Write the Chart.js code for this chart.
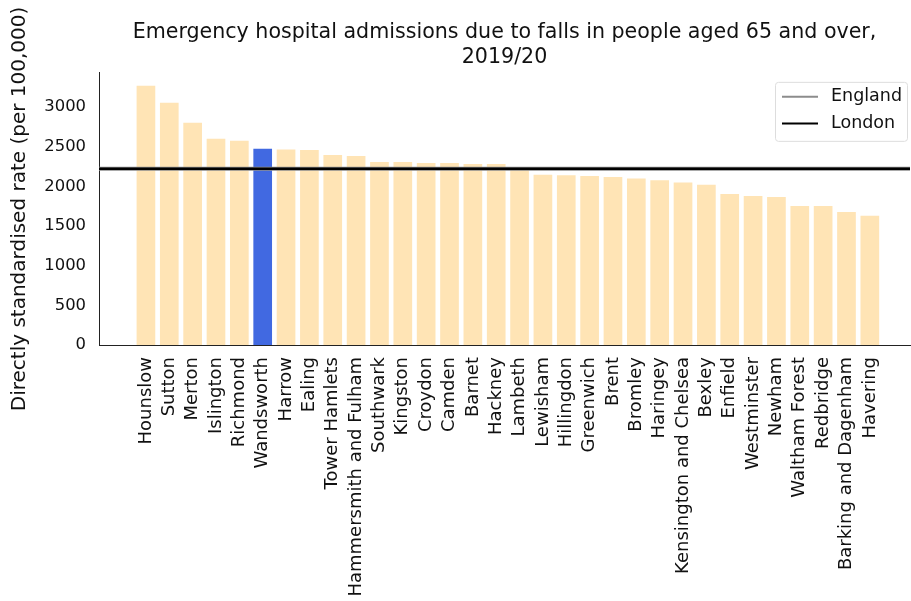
<!DOCTYPE html>
<html>
<head>
<meta charset="utf-8">
<script src="https://cdn.jsdelivr.net/npm/chart.js@4/dist/chart.umd.min.js"></script>
<style>
  body { margin: 0; background: #fff; }
  #wrap { width: 911px; height: 601px; }
</style>
</head>
<body>
<div id="wrap"><canvas id="chart" width="911" height="601"></canvas></div>
<script>
// ---------- data ----------
const boroughs = [
  "Hounslow", "Sutton", "Merton", "Islington", "Richmond", "Wandsworth", "Harrow",
  "Ealing", "Tower Hamlets", "Hammersmith and Fulham", "Southwark", "Kingston",
  "Croydon", "Camden", "Barnet", "Hackney", "Lambeth", "Lewisham", "Hillingdon",
  "Greenwich", "Brent", "Bromley", "Haringey", "Kensington and Chelsea", "Bexley",
  "Enfield", "Westminster", "Newham", "Waltham Forest", "Redbridge",
  "Barking and Dagenham", "Havering",
];
const rates = [
  3266, 3052, 2800, 2598, 2573, 2472, 2465,
  2459, 2396, 2383, 2308, 2305,
  2295, 2295, 2282, 2282, 2215, 2146, 2138,
  2131, 2118, 2097, 2077, 2047, 2021,
  1904, 1879, 1866, 1753, 1753,
  1677, 1630,
];
const englandRate = 2222;
const londonRate = 2220;
const yTicks = [0, 500, 1000, 1500, 2000, 2500, 3000];
const highlight = "Wandsworth";

// ---------- styling ----------
const FONT = "'DejaVu Sans', sans-serif";
const BAR = "#FFE4B5";
const BLUE = "#4169E1";
const X_MIN = -2.01;
const X_MAX = 32.72;

// legend drawn inside the plot, top right, like matplotlib's
const legendBox = {
  id: "legendBox",
  afterDraw(chart) {
    const { ctx, chartArea } = chart;
    const w = 132, h = 59;
    const x = chartArea.right - w - 3, y = chartArea.top + 9;
    ctx.save();
    ctx.fillStyle = "rgba(255,255,255,0.85)";
    ctx.strokeStyle = "#dddddd";
    ctx.lineWidth = 1;
    ctx.beginPath();
    ctx.roundRect(x + 0.5, y + 0.5, w, h, 3);
    ctx.fill();
    ctx.stroke();
    const items = [["England", "#8c8c8c"], ["London", "#000000"]];
    ctx.font = "17.5px " + FONT;
    ctx.textBaseline = "middle";
    items.forEach(([label, color], i) => {
      const ly = y + 15 + i * 26.6;
      ctx.strokeStyle = color;
      ctx.lineWidth = 2;
      ctx.beginPath();
      ctx.moveTo(x + 7, ly);
      ctx.lineTo(x + 43, ly);
      ctx.stroke();
      ctx.fillStyle = "#111";
      ctx.fillText(label, x + 56, ly);
    });
    ctx.restore();
  },
};

new Chart(document.getElementById("chart"), {
  type: "bar",
  data: {
    datasets: [
      {
        type: "line",
        label: "England",
        data: [{ x: X_MIN, y: englandRate }, { x: X_MAX, y: englandRate }],
        borderColor: "#8c8c8c",
        borderWidth: 4,
        pointRadius: 0,
        order: 1,
      },
      {
        type: "line",
        label: "London",
        data: [{ x: X_MIN, y: londonRate }, { x: X_MAX, y: londonRate }],
        borderColor: "#000000",
        borderWidth: 2.5,
        pointRadius: 0,
        order: 0,
      },
      {
        type: "bar",
        label: "Rate",
        data: rates.map((v, i) => ({ x: i, y: v })),
        backgroundColor: boroughs.map((b) => (b === highlight ? BLUE : BAR)),
        barPercentage: 0.8,
        categoryPercentage: 1,
        order: 2,
      },
    ],
  },
  options: {
    responsive: false,
    devicePixelRatio: 1,
    animation: false,
    layout: { padding: { left: 0, right: 1, top: 0, bottom: 0 } },
    plugins: {
      legend: { display: false },
      tooltip: { enabled: false },
      title: {
        display: true,
        fullSize: false,
        text: ["Emergency hospital admissions due to falls in people aged 65 and over,", "2019/20"],
        color: "#111",
        font: { family: FONT, size: 20.6, weight: "normal", lineHeight: 1.21 },
        padding: { top: 20.5, bottom: 2.5 },
      },
    },
    scales: {
      x: {
        type: "linear",
        min: X_MIN,
        max: X_MAX,
        offset: false,
        grid: { display: false, drawTicks: false },
        border: { color: "#222", width: 1 },
        afterBuildTicks: (s) => { s.ticks = boroughs.map((_, i) => ({ value: i })); },
        afterFit: (s) => { s.height = 256; },
        ticks: {
          autoSkip: false,
          minRotation: 90,
          maxRotation: 90,
          padding: 12,
          color: "#111",
          font: { family: FONT, size: 18 },
          callback: (v) => boroughs[v] ?? "",
        },
      },
      y: {
        min: 0,
        max: 3430,
        grid: { display: false, drawTicks: false },
        border: { color: "#222", width: 1 },
        afterBuildTicks: (s) => { s.ticks = yTicks.map((v) => ({ value: v })); },
        afterFit: (s) => { s.width = 99; },
        ticks: {
          padding: 13,
          color: "#111",
          font: { family: FONT, size: 16.4 },
          callback: (v) => String(v),
        },
        title: {
          display: true,
          text: "Directly standardised rate (per 100,000)",
          color: "#111",
          font: { family: FONT, size: 20 },
          padding: { top: 8, bottom: 0 },
        },
      },
    },
  },
  plugins: [legendBox],
});
</script>
</body>
</html>
